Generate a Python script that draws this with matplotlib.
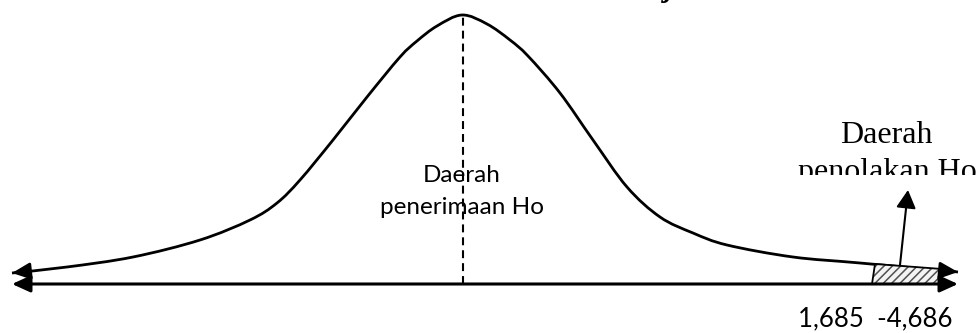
import numpy as np
import matplotlib
matplotlib.use("Agg")
import matplotlib.pyplot as plt
from matplotlib.path import Path
from matplotlib.patches import PathPatch, Polygon, Rectangle

# curve (x position, height above the baseline)
curve_x = [12, 67, 133, 200, 250, 277, 300, 333, 367, 400, 417, 437, 462,
           487, 510, 528, 560, 593, 627, 660, 693, 727, 793, 860, 958]
curve_h = [11, 17, 27, 44, 64, 81, 104, 144, 187, 227, 243, 258, 269,
           260, 244, 228, 191, 144, 97, 67, 51, 39, 27, 21, 12]

axis_x = [12, 958]
mean_x = 463
peak_h = 269

# rejection region (bottom edge x, top edge heights)
rej_x = [872, 942]
rej_top_x = [875, 942]
rej_top_h = [20, 15]

pointer_from = (900, 19)
pointer_to = (908, 94)

accept_lines = ["Daerah", "penerimaan Ho"]
reject_lines = ["Daerah", "penolakan Ho"]
crit_label = "1,685  -4,686"

W, H = 977, 333
BASE = 284  # baseline row in the picture, from the top


def smooth_path(xs, ys):
    # catmull-rom through the read points, drawn as cubic bezier pieces
    p = np.column_stack([xs, ys]).astype(float)
    p_ext = np.vstack([p[0], p, p[-1]])
    verts = [p[0]]
    codes = [Path.MOVETO]
    for i in range(1, len(p_ext) - 2):
        p0, p1, p2, p3 = p_ext[i - 1], p_ext[i], p_ext[i + 1], p_ext[i + 2]
        verts += [p1 + (p2 - p0) / 6, p2 - (p3 - p1) / 6, p2]
        codes += [Path.CURVE4] * 3
    return Path(verts, codes)


fig = plt.figure(figsize=(W / 100, H / 100), dpi=100)
ax = fig.add_axes([0, 0, 1, 1])
ax.set_xlim(0, W)
ax.set_ylim(BASE - H, BASE)
ax.axis("off")

# bell curve
ax.add_patch(PathPatch(smooth_path(curve_x, curve_h), fill=False,
                       lw=2.0, ec="black", capstyle="butt"))

# arrowheads at both curve ends
head = dict(arrowstyle="-|>,head_length=1.1,head_width=0.5", color="black",
            lw=2.0, shrinkA=0, shrinkB=0, mutation_scale=10)
for i, j in [(0, 1), (-1, -2)]:
    tip = np.array([curve_x[i], curve_h[i]], float)
    d = np.array([curve_x[j], curve_h[j]], float) - tip
    back = tip + d / np.hypot(*d) * 16
    ax.annotate("", xy=tip, xytext=back, arrowprops=head)

# horizontal axis with arrows
ax.annotate("", xy=(axis_x[0], 0), xytext=(axis_x[1], 0),
            arrowprops=dict(arrowstyle="<|-|>,head_length=1.1,head_width=0.5",
                            color="black", lw=2.2, shrinkA=0, shrinkB=0,
                            mutation_scale=10))

# dashed mean line
ax.plot([mean_x, mean_x], [0, peak_h], color="black", lw=1.5,
        dashes=(3.8, 2.4))

# hatched rejection area
rej_poly = [(rej_x[0], 0), (rej_top_x[0], rej_top_h[0]),
            (rej_top_x[1], rej_top_h[1]), (rej_x[1], 0)]
plt.rcParams["hatch.linewidth"] = 1.1
ax.add_patch(Polygon(rej_poly, closed=True, fc="#f4f4f4", ec="#505050",
                     lw=0, hatch="////"))
ax.add_patch(Polygon(rej_poly, closed=True, fill=False, ec="black", lw=1.3))

# pointer arrow
ax.annotate("", xy=pointer_to, xytext=pointer_from, zorder=6,
            arrowprops=dict(arrowstyle="-|>,head_length=1.1,head_width=0.6",
                            color="black", lw=1.5, shrinkA=0, shrinkB=0,
                            mutation_scale=10))

# labels
for line, row in zip(accept_lines, [182, 214]):
    ax.text(mean_x - 1, BASE - row, line, ha="center", va="baseline",
            fontsize=17.5, family="Lato")

ax.text(886, BASE - 143, reject_lines[0], ha="center", va="baseline",
        fontsize=23, family="Liberation Serif", zorder=3)
ax.text(887, BASE - 180, reject_lines[1], ha="center", va="baseline",
        fontsize=23, family="Liberation Serif", zorder=3)
# the text box in the reference cuts off the lower part of this line
ax.add_patch(Rectangle((790, BASE - 189), 187, 14, fc="white", ec="none",
                       zorder=4))

ax.text(875, BASE - 326, crit_label, ha="center", va="baseline",
        fontsize=18.5, family="Lato")

# cut-off glyph of a title above the picture
ax.text(669, BASE + 4, "j", ha="center", va="baseline", fontsize=22,
        family="Liberation Serif", fontweight="bold", fontstyle="italic",
        clip_on=False)

fig.savefig("out.png", dpi=100)
